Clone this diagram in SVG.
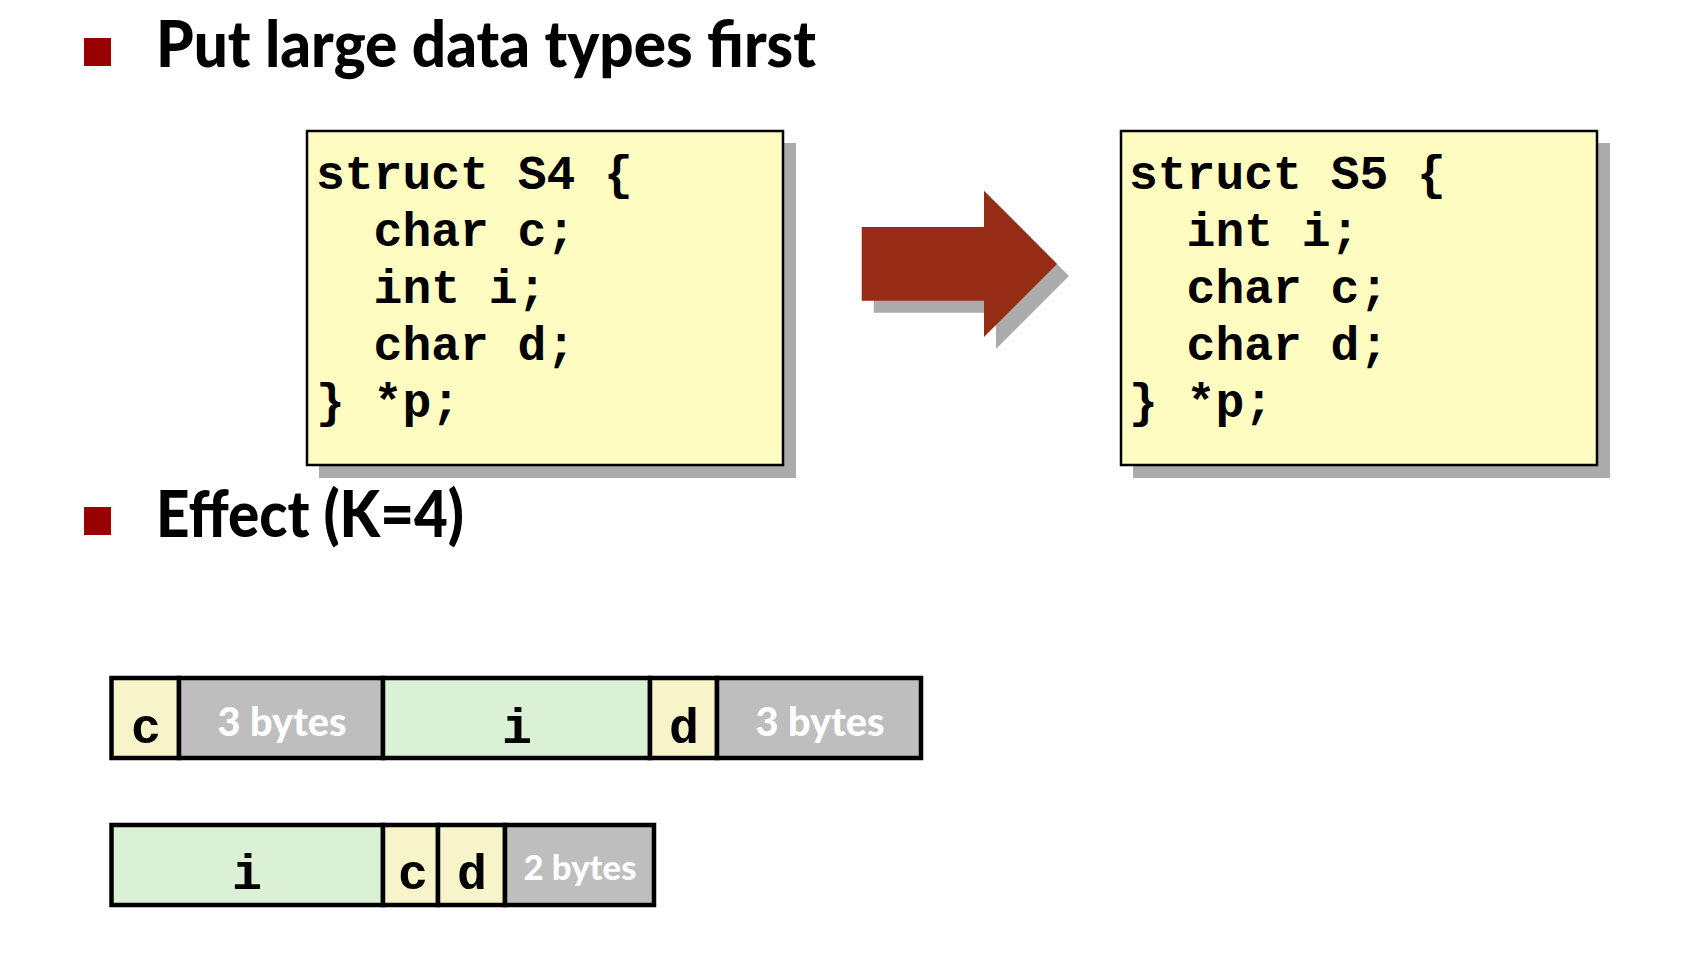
<svg xmlns="http://www.w3.org/2000/svg" width="1683" height="956" viewBox="0 0 1683 956">
  <style>
    .head { font-family: Lato, "Open Sans", sans-serif; font-weight: 900; font-size: 64px; fill: #000; }
    .bullet { fill: #990000; }
    .code { font-family: "Liberation Mono", "Courier New", monospace; font-weight: bold; font-size: 48px; fill: #000; }
    .box { fill: #FFFCC2; stroke: #000; stroke-width: 2.5; }
    .shadow { fill: #ABABAB; }
    .cell { stroke: #000; stroke-width: 4.5; }
    .ch { fill: #F7F4C9; }
    .in { fill: #DBF1D6; }
    .pad { fill: #BEBEBE; }
    .lbl { font-family: "Liberation Mono", "Courier New", monospace; font-weight: bold; font-size: 50px; fill: #000; text-anchor: middle; }
    .padtxt { font-family: Lato, "Open Sans", sans-serif; font-weight: 900; fill: #FFFFFF; text-anchor: middle; }
  </style>
  <rect width="1683" height="956" fill="#FFFFFF"/>

  <!-- headings -->
  <g id="heading-put-large-first">
    <rect class="bullet" x="84" y="38" width="27" height="28"/>
    <text class="head" x="156" y="67" textLength="660" lengthAdjust="spacingAndGlyphs">Put large data types first</text>
  </g>
  <g id="heading-effect">
    <rect class="bullet" x="84" y="507" width="27" height="28"/>
    <text class="head" x="156" y="537" textLength="308" lengthAdjust="spacingAndGlyphs">Effect (K=4)</text>
  </g>

  <!-- struct S4 -->
  <g id="struct-s4">
    <rect class="shadow" x="319" y="143" width="477" height="335"/>
    <rect class="box" x="307" y="131" width="476" height="334"/>
    <text class="code" x="316" y="189">struct S4 {</text>
    <text class="code" x="373.6" y="246">char c;</text>
    <text class="code" x="373.6" y="303">int i;</text>
    <text class="code" x="373.6" y="360">char d;</text>
    <text class="code" x="316" y="417">} *p;</text>
  </g>

  <!-- struct S5 -->
  <g id="struct-s5">
    <rect class="shadow" x="1133" y="143" width="477" height="335"/>
    <rect class="box" x="1121" y="131" width="476" height="334"/>
    <text class="code" x="1129" y="189">struct S5 {</text>
    <text class="code" x="1186.6" y="246">int i;</text>
    <text class="code" x="1186.6" y="303">char c;</text>
    <text class="code" x="1186.6" y="360">char d;</text>
    <text class="code" x="1129" y="417">} *p;</text>
  </g>

  <!-- block arrow from S4 to S5 -->
  <g id="connectors">
    <path class="shadow" d="M873.7,239 L996,239 L996,202.7 L1069,276 L996,349 L996,312.7 L873.7,312.7 Z"/>
    <path fill="#962B16" d="M861.7,227 L984,227 L984,190.7 L1057,264 L984,337 L984,300.7 L861.7,300.7 Z"/>
  </g>

  <!-- memory layout of S4 -->
  <g id="layout-s4">
    <rect class="cell ch" x="111.5" y="678" width="67.5" height="80"/>
    <rect class="cell pad" x="179" y="678" width="204" height="80"/>
    <rect class="cell in" x="383" y="678" width="267" height="80"/>
    <rect class="cell ch" x="650" y="678" width="67" height="80"/>
    <rect class="cell pad" x="717" y="678" width="204" height="80"/>
    <text class="lbl" x="146" y="743">c</text>
    <text class="padtxt" x="282" y="736" font-size="40" textLength="129" lengthAdjust="spacingAndGlyphs">3 bytes</text>
    <text class="lbl" x="517" y="743">i</text>
    <text class="lbl" x="684" y="743">d</text>
    <text class="padtxt" x="820" y="736" font-size="40" textLength="129" lengthAdjust="spacingAndGlyphs">3 bytes</text>
  </g>

  <!-- memory layout of S5 -->
  <g id="layout-s5">
    <rect class="cell in" x="111.5" y="825" width="271.5" height="80"/>
    <rect class="cell ch" x="383" y="825" width="55" height="80"/>
    <rect class="cell ch" x="438" y="825" width="67" height="80"/>
    <rect class="cell pad" x="505" y="825" width="149" height="80"/>
    <text class="lbl" x="247" y="889">i</text>
    <text class="lbl" x="413" y="889">c</text>
    <text class="lbl" x="472" y="889">d</text>
    <text class="padtxt" x="580" y="880" font-size="35" textLength="113" lengthAdjust="spacingAndGlyphs">2 bytes</text>
  </g>
</svg>
